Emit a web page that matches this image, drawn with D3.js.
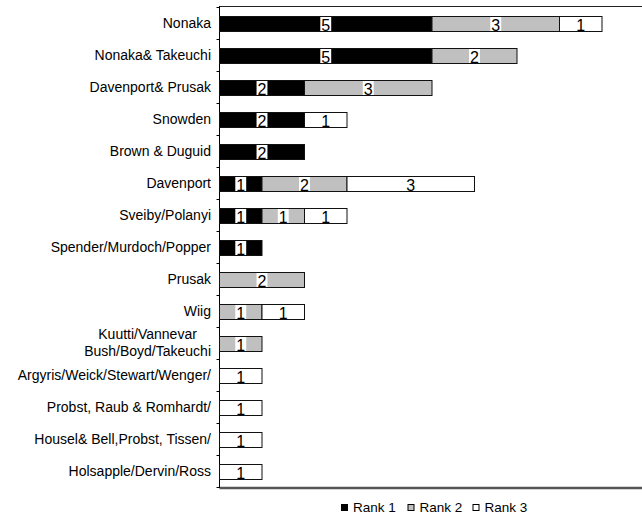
<!DOCTYPE html>
<html>
<head>
<meta charset="utf-8">
<script src="https://cdn.jsdelivr.net/npm/d3@7"></script>
<style>
  html, body { margin: 0; padding: 0; background: #fff; }
  svg { display: block; font-family: "Liberation Sans", Arial, Helvetica, sans-serif; }
</style>
</head>
<body>
<svg id="chart" width="642" height="516"></svg>
<script>
// Authors cited, with how often each was ranked 1st, 2nd and 3rd
const categories = [
  "Nonaka",
  "Nonaka& Takeuchi",
  "Davenport& Prusak",
  "Snowden",
  "Brown & Duguid",
  "Davenport",
  "Sveiby/Polanyi",
  "Spender/Murdoch/Popper",
  "Prusak",
  "Wiig",
  "Kuutti/Vannevar\nBush/Boyd/Takeuchi",
  "Argyris/Weick/Stewart/Wenger/",
  "Probst, Raub & Romhardt/",
  "Housel& Bell,Probst, Tissen/",
  "Holsapple/Dervin/Ross"
];
const rank1 = [5, 5, 2, 2, 2, 1, 1, 1, 0, 0, 0, 0, 0, 0, 0];
const rank2 = [3, 2, 3, 0, 0, 2, 1, 0, 2, 1, 1, 0, 0, 0, 0];
const rank3 = [1, 0, 0, 1, 0, 3, 1, 0, 0, 1, 0, 1, 1, 1, 1];
const seriesNames = ["Rank 1", "Rank 2", "Rank 3"];
const seriesColors = ["#000000", "#c0c0c0", "#ffffff"];

const rows = categories.map((c, i) => ({ name: c, "Rank 1": rank1[i], "Rank 2": rank2[i], "Rank 3": rank3[i] }));
const stacked = d3.stack().keys(seriesNames)(rows);

const svg = d3.select("#chart");
const plotLeft = 219.5, plotTop = 7, plotBottom = 487;

const x = d3.scaleLinear().domain([0, 10]).range([plotLeft, plotLeft + 425]);
const pi = 0.53125;
const y = d3.scaleBand().domain(categories).range([plotTop, plotBottom]).paddingInner(pi).paddingOuter(pi / 2);
const color = d3.scaleOrdinal().domain(seriesNames).range(seriesColors);

// frame: thin top rule, heavy bottom rule
svg.append("line").attr("x1", plotLeft).attr("x2", 642).attr("y1", 6.5).attr("y2", 6.5)
  .attr("stroke", "#222").attr("stroke-width", 1);
svg.append("line").attr("x1", plotLeft).attr("x2", 642).attr("y1", 488).attr("y2", 488)
  .attr("stroke", "#555").attr("stroke-width", 2.5);

// left category axis with ticks on band boundaries
const yAxis = svg.append("g");
yAxis.append("line").attr("x1", plotLeft).attr("x2", plotLeft).attr("y1", 6).attr("y2", 488)
  .attr("stroke", "#000").attr("stroke-width", 1);
const bounds = d3.range(categories.length + 1).map(i => plotTop + i * y.step());
yAxis.selectAll("line.tick").data(bounds).join("line")
  .attr("class", "tick")
  .attr("x1", plotLeft - 3).attr("x2", plotLeft)
  .attr("y1", d => Math.round(d) + 0.5).attr("y2", d => Math.round(d) + 0.5)
  .attr("stroke", "#000");

// category labels (multi-line labels centred on their longest line)
const labelRight = 211;
const labels = svg.append("g").attr("font-size", 14).attr("fill", "#000");
categories.forEach(c => {
  const lines = c.split("\n");
  const cy = y(c) + y.bandwidth() / 2;
  if (lines.length === 1) {
    labels.append("text").attr("x", labelRight).attr("y", cy + 4.5)
      .attr("text-anchor", "end").text(c);
  } else {
    const g = labels.append("g");
    const ts = lines.map((l, k) => g.append("text")
      .attr("y", cy + 4.5 + (k - (lines.length - 1) / 2) * 16.5)
      .attr("text-anchor", "middle").text(l));
    const w = d3.max(ts, t => t.node().getComputedTextLength());
    ts.forEach(t => t.attr("x", labelRight - w / 2));
  }
});

// stacked bars
const bars = svg.append("g");
stacked.forEach(s => {
  bars.append("g").selectAll("rect")
    .data(s.filter(d => d[1] - d[0] > 0))
    .join("rect")
    .attr("x", d => x(d[0]))
    .attr("y", d => Math.round(y(d.data.name)) + 0.5)
    .attr("width", d => x(d[1]) - x(d[0]))
    .attr("height", Math.round(y.bandwidth()))
    .attr("fill", color(s.key))
    .attr("stroke", "#111")
    .attr("stroke-width", 1);
});

// value labels on a white patch in the middle of each segment
const vals = svg.append("g").attr("font-size", 16).attr("fill", "#000");
stacked.forEach(s => {
  s.filter(d => d[1] - d[0] > 0).forEach(d => {
    const cx = (x(d[0]) + x(d[1])) / 2;
    const by = Math.round(y(d.data.name)) + 0.5;
    const bh = Math.round(y.bandwidth());
    const g = vals.append("g");
    const r = g.append("rect").attr("fill", "#fff");
    const t = g.append("text").attr("x", cx).attr("y", by + bh - 1)
      .attr("text-anchor", "middle").text(d[1] - d[0]);
    const w = t.node().getComputedTextLength() + 2;
    r.attr("x", cx - w / 2).attr("y", by + 0.5).attr("width", w).attr("height", bh - 1);
  });
});

// legend
const legendX = [341, 407.5, 472.5];
const legend = svg.append("g").attr("font-size", 13.5);
seriesNames.forEach((n, i) => {
  legend.append("rect").attr("x", legendX[i] + 0.5).attr("y", 504.5).attr("width", 6).attr("height", 6)
    .attr("fill", color(n)).attr("stroke", "#000").attr("stroke-width", 1);
  legend.append("text").attr("x", legendX[i] + 12).attr("y", 512).text(n);
});
</script>
</body>
</html>
